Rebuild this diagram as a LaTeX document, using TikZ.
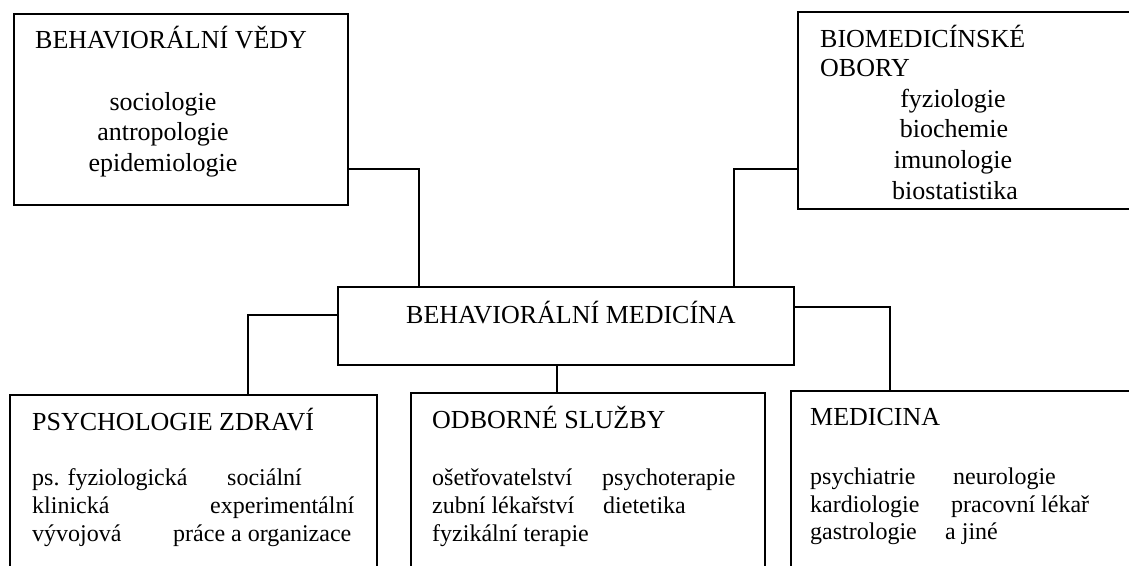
\documentclass[tikz,border=0pt]{standalone}
\usepackage{fontspec}
\setmainfont{Liberation Serif}
\begin{document}
\begin{tikzpicture}[x=1pt,y=-1pt,
  box/.style={draw, line width=1.6pt, rectangle, inner sep=0pt, outer sep=0pt, anchor=north west},
  conn/.style={line width=1.6pt},
  dbl/.style={line width=2.8pt},
  big/.style={inner sep=0pt, font=\fontsize{26}{30}\selectfont},
  small/.style={inner sep=0pt, font=\fontsize{24}{28}\selectfont}]
\useasboundingbox (0,0) rectangle (1129,565);
% boxes
\node[box, minimum width=334pt, minimum height=191pt] (bv) at (14,14) {};
\node[box, minimum width=350pt, minimum height=197pt] (bo) at (798,12) {};
\node[box, minimum width=456pt, minimum height=78pt] (bm) at (338,287) {};
\node[box, minimum width=367pt, minimum height=220pt] (pz) at (10,395) {};
\node[box, minimum width=354pt, minimum height=220pt] (os) at (411,393) {};
\node[box, minimum width=360pt, minimum height=220pt] (me) at (791,391) {};
% junction coordinates
\coordinate (c1) at (419,169);
\coordinate (c2) at (734,169);
\coordinate (c3) at (248,315);
\coordinate (c4) at (557,380);
\coordinate (c5) at (890,307);
% connectors
\draw[conn] (bv.east |- c1) -| (bm.north -| c1);
\draw[dbl] (bm.north -| c1) -- ++(69,0);
\draw[conn] (bo.west |- c2) -| (bm.north -| c2);
\draw[dbl] (bm.north -| c2) -- ++(-61,0);
\draw[conn] (bm.west |- c3) -| (pz.north -| c3);
\draw[dbl] (pz.north -| c3) -- ++(-90,0);
\draw[conn] (bm.south -| c4) -- (os.north -| c4);
\draw[conn] (bm.east |- c5) -| (me.north -| c5);
\draw[dbl] (me.north -| c5) -- ++(93,0);
% texts box 1
\node[big, anchor=base west] (t1) at (35,48) {BEHAVIORÁLNÍ VĚDY};
\node[big, anchor=base] (t1a) at (163,110) {sociologie};
\node[big, anchor=base] (t1b) at (163,140.5) {antropologie};
\node[big, anchor=base] (t1c) at (163,171) {epidemiologie};
% box 2
\node[big, anchor=base west] (t2) at (820,47) {BIOMEDICÍNSKÉ};
\node[big, anchor=base west] (t2o) at (820,76) {OBORY};
\node[big, anchor=base] (t2a) at (953,107) {fyziologie};
\node[big, anchor=base] (t2b) at (954,137) {biochemie};
\node[big, anchor=base] (t2c) at (953,168) {imunologie};
\node[big, anchor=base] (t2d) at (955,199) {biostatistika};
% central
\node[big, anchor=base west] (t3) at (406,323) {BEHAVIORÁLNÍ MEDICÍNA};
% psychologie
\node[big, anchor=base west] (t4) at (32,430) {PSYCHOLOGIE ZDRAVÍ};
\node[small, anchor=base west] (t4a) at (32,485) {ps. fyziologická};
\node[small, anchor=base west] (t4b) at (227,485) {sociální};
\node[small, anchor=base west] (t4c) at (32,513) {klinická};
\node[small, anchor=base west] (t4d) at (210,513) {experimentální};
\node[small, anchor=base west] (t4e) at (32,541) {vývojová};
\node[small, anchor=base west] (t4f) at (173,541) {práce a organizace};
% odborne sluzby
\node[big, anchor=base west] (t5) at (432,428) {ODBORNÉ SLUŽBY};
\node[small, anchor=base west] (t5a) at (432,485) {ošetřovatelství};
\node[small, anchor=base west] (t5b) at (602,485) {psychoterapie};
\node[small, anchor=base west] (t5c) at (432,513) {zubní lékařství};
\node[small, anchor=base west] (t5d) at (603,513) {dietetika};
\node[small, anchor=base west] (t5e) at (432,541) {fyzikální terapie};
% medicina
\node[big, anchor=base west] (t6) at (810,425) {MEDICINA};
\node[small, anchor=base west] (t6a) at (810,484) {psychiatrie};
\node[small, anchor=base west] (t6b) at (953,484) {neurologie};
\node[small, anchor=base west] (t6c) at (810,512) {kardiologie};
\node[small, anchor=base west] (t6d) at (951,512) {pracovní lékař};
\node[small, anchor=base west] (t6e) at (810,539) {gastrologie};
\node[small, anchor=base west] (t6f) at (945,539) {a jiné};
\end{tikzpicture}
\end{document}
